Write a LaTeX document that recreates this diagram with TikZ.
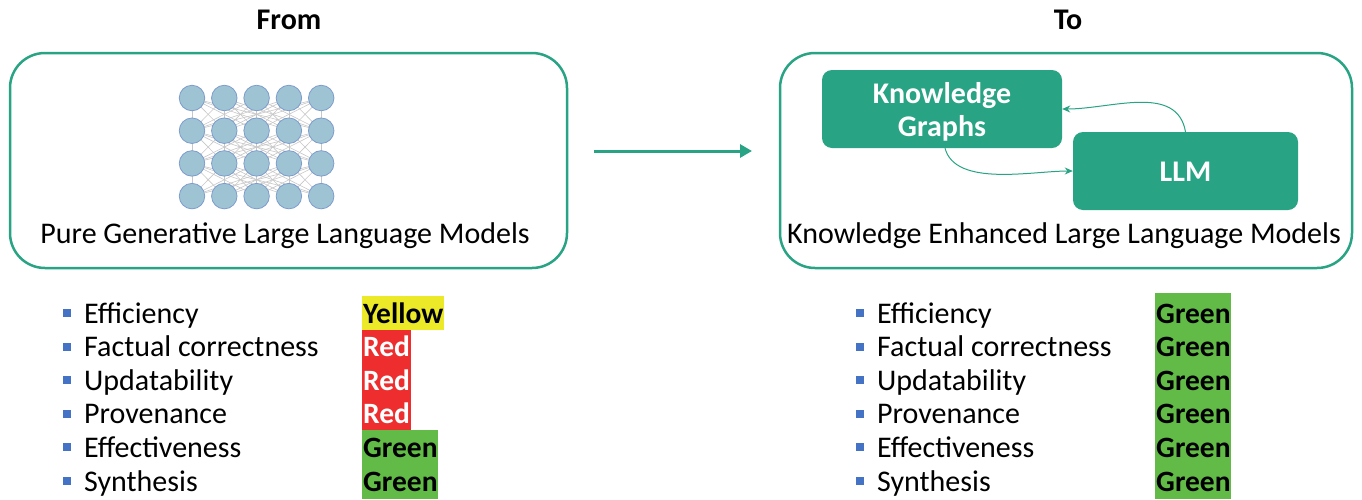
\documentclass[tikz,border=0pt]{standalone}
\usepackage{fontspec}
\setmainfont{Carlito}
\usetikzlibrary{arrows.meta,backgrounds}
\definecolor{tealc}{RGB}{40,163,131}
\definecolor{nnfill}{RGB}{158,196,212}
\definecolor{nnedge}{RGB}{125,155,205}
\definecolor{bulletc}{RGB}{68,114,196}
\definecolor{ylw}{RGB}{236,234,40}
\definecolor{rd}{RGB}{238,46,46}
\definecolor{grn}{RGB}{98,187,70}
\tikzset{
  bigbox/.style={draw=tealc, line width=2.5pt, rounded corners=35pt, minimum width=557pt, minimum height=215pt, inner sep=0pt},
  tealbox/.style={fill=tealc, rounded corners=10pt, inner sep=0pt},
  boxtext/.style={text=white, font=\bfseries\fontsize{30}{33}\selectfont, align=center, inner sep=0pt},
  title/.style={font=\bfseries\fontsize{30}{33}\selectfont},
  caption/.style={font=\fontsize{30}{33}\selectfont, inner sep=0pt},
  neuron/.style={circle, fill=nnfill, draw=nnedge, line width=0.8pt, minimum size=25.5pt, inner sep=0pt},
  nnline/.style={draw=black!22, line width=0.6pt},
  bullet/.style={fill=bulletc, minimum size=8pt, inner sep=0pt},
  item/.style={font=\fontsize{30}{33}\selectfont, anchor=base west, inner sep=0pt},
  lbl/.style={font=\bfseries\fontsize{29.5}{33}\selectfont, anchor=base west, inner sep=0pt},
  thinarrow/.style={draw=tealc, line width=1pt, -{Stealth[length=8pt,width=7pt]}},
  bigarrow/.style={draw=tealc, line width=3pt, -{Triangle[length=12pt,width=13pt]}}
}
\begin{document}
\begin{tikzpicture}[x=1pt,y=1pt]
\useasboundingbox (0,0) rectangle (1362,-499);
% titles
\node[title] (from) at (289,-20) {From};
\node[title] (to) at (1068,-20) {To};
% big boxes
\node[bigbox] (lbox) at (288.5,-160.5) {};
\node[bigbox, minimum width=572pt] (rbox) at (1066,-160.5) {};
% neural network
\foreach \i in {0,...,4}{
  \foreach \j in {0,...,3}{
    \node[neuron] (n-\i-\j) at (192+32.3*\i, -98-32.7*\j) {};
  }
}
\begin{scope}[on background layer]
\foreach \j/\k in {0/1,1/2,2/3}{
  \foreach \i in {0,...,4}{
    \foreach \m in {0,...,4}{
      \draw[nnline] (n-\i-\j.center) -- (n-\m-\k.center);
    }
  }
}
\end{scope}
\node[caption] (lcap) at (285,-236) {Pure Generative Large Language Models};
\node[caption] (rcap) at (1064,-236) {Knowledge Enhanced Large Language Models};
% KG and LLM
\node[tealbox, minimum width=240pt, minimum height=78pt] (kg) at (942,-109) {};
\node[boxtext] (kgt) at ([yshift=-2.5pt]kg.center) {Knowledge\\Graphs};
\node[tealbox, minimum width=225pt, minimum height=78pt] (llm) at (1185.5,-171) {};
\node[boxtext] (llmt) at ([yshift=-0.5pt]llm.center) {LLM};
\draw[thinarrow] (llm.north) to[out=100, in=0] (kg.east);
\draw[thinarrow] ([xshift=3pt]kg.south) to[out=-75, in=180, looseness=0.8] (llm.west);
% big arrow
\coordinate (a1) at (594,-151);
\coordinate (a2) at (752,-151);
\draw[bigarrow] (a1) -- (a2);
% label fills
\fill[ylw] (362,-296) rectangle (444,-330);
\fill[rd] (362,-330) rectangle (411,-430);
\fill[grn] (362,-430) rectangle (438,-499);
\fill[grn] (1155,-293) rectangle (1231,-499);
% lists
\foreach \t/\c/\tc [count=\r from 0] in {Efficiency/Yellow/black, Factual correctness/Red/white, Updatability/Red/white, Provenance/Red/white, Effectiveness/Green/black, Synthesis/Green/black}{
  \node[bullet] (lb\r) at (67,-313-33.6*\r) {};
  \node[item] (lt\r) at (84,-323-33.6*\r) {\t};
  \node[lbl, text=\tc] (ll\r) at (363,-323-33.6*\r) {\c};
  \node[bullet] (rb\r) at (860,-313-33.6*\r) {};
  \node[item] (rt\r) at (877,-323-33.6*\r) {\t};
  \node[lbl] (rl\r) at (1156,-323-33.6*\r) {Green};
}
\end{tikzpicture}
\end{document}
